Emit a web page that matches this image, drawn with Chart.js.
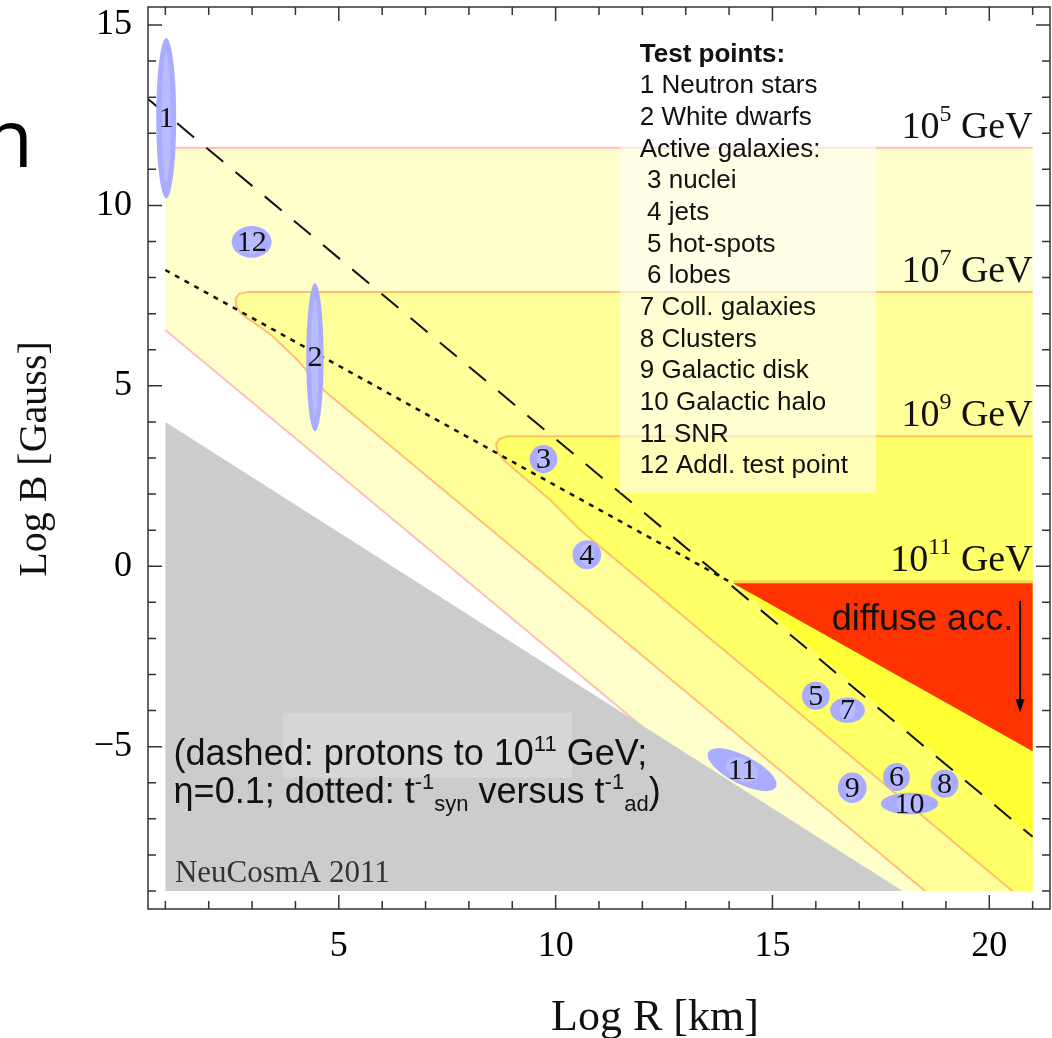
<!DOCTYPE html>
<html>
<head>
<meta charset="utf-8">
<title>Hillas plot</title>
<script src="https://cdn.jsdelivr.net/npm/chart.js@4.4.1/dist/chart.umd.min.js"></script>
<style>
  html, body { margin: 0; padding: 0; background: #ffffff; }
  canvas { display: block; }
</style>
</head>
<body>
<canvas id="hillasChart" width="1052" height="1038"></canvas>
<script>
// Log R [km] on x, Log B [Gauss] on y
const xTicks = [5, 10, 15, 20];
const yTicks = [-5, 0, 5, 10, 15];

// contours of the maximal energy
const band5R = [21, 1, null, 1, 16.55];
const band5B = [11.6, 11.6, null, 6.55, -9];
const band7R = [21, 2.9, 2.7, 2.62, 2.64, 2.75, 2.95, 3.2, 3.48, 4.02, 4.68, 18.52];
const band7B = [7.6, 7.6, 7.55, 7.42, 7.2, 7.0, 6.83, 6.62, 6.37, 5.75, 4.85, -9];
const band9R = [21, 8.9, 8.7, 8.63, 8.66, 8.78, 8.98, 9.33, 9.87, 10.56, 20.53];
const band9B = [3.6, 3.6, 3.53, 3.38, 3.18, 2.97, 2.76, 2.4, 1.84, 1.01, -9];
const band11R = [21, 14.09];
const band11B = [-0.42, -0.42];
const energyExp = [5, 7, 9, 11];

// excluded (grey) and diffuse acceleration (red) regions
const greyR = [1, 18, 1];
const greyB = [4, -9, -9];
const diffuseR = [14.09, 21, 21];
const diffuseB = [-0.47, -0.47, -5.13];

// dashed: protons to 10^11 GeV, dotted: t_syn^-1 = t_ad^-1
const dashedR = [0.6, 21];
const dashedB = [12.95, -7.5];
const dottedR = [1, 14.09];
const dottedB = [8.21, -0.48];

// test points: centre and half extent in Log R / Log B
const pointLabels = ['1', '2', '3', '4', '5', '6', '7', '8', '9', '10', '11', '12'];
const pointR  = [1.02, 4.45, 9.72, 10.72, 16.0, 17.86, 16.73, 18.97, 16.84, 18.16, 14.3, 2.99];
const pointB  = [12.42, 5.79, 2.97, 0.32, -3.59, -5.84, -3.99, -6.03, -6.14, -6.58, -5.64, 8.99];
const pointDR = [0.23, 0.2, 0.32, 0.33, 0.32, 0.31, 0.4, 0.32, 0.33, 0.66, 0.88, 0.46];
const pointDB = [2.22, 2.05, 0.39, 0.4, 0.39, 0.39, 0.35, 0.39, 0.42, 0.3, 0.39, 0.44];
const pointTilt = [0, 0, 0, 0, 0, 0, 0, 0, 0, 0, 27, 0];

const legendLines = ['1 Neutron stars', '2 White dwarfs', 'Active galaxies:', ' 3 nuclei', ' 4 jets',
  ' 5 hot-spots', ' 6 lobes', '7 Coll. galaxies', '8 Clusters', '9 Galactic disk',
  '10 Galactic halo', '11 SNR', '12 Addl. test point'];

const serif = '"Liberation Serif", "Times New Roman", serif';
const sans = '"Liberation Sans", Arial, sans-serif';

const pts = (R, B) => R.map((r, i) => ({x: r, y: B[i]}));
const poly = (R, B, cR, cB) => pts(R, B).filter(p => p.x !== null).concat(pts(cR, cB));

function drawRuns(ctx, runs, x, y, align) {
    let width = 0;
    for (const r of runs) { ctx.font = r.font; width += ctx.measureText(r.text).width; }
    let cx = align === 'right' ? x - width : (align === 'center' ? x - width / 2 : x);
    ctx.textAlign = 'left';
    for (const r of runs) {
        ctx.font = r.font;
        ctx.fillText(r.text, cx, y + (r.dy || 0));
        cx += ctx.measureText(r.text).width;
    }
}

const overlay = {
    id: 'overlay',
    afterDatasetsDraw(chart) {
        const {ctx, scales: {x, y}} = chart;
        const px = v => x.getPixelForValue(v);
        const py = v => y.getPixelForValue(v);
        ctx.save();

        // lighter patch behind the caption, legend box
        ctx.fillStyle = 'rgba(255,255,255,0.2)';
        ctx.fillRect(px(3.71), py(-4.06), px(10.38) - px(3.71), py(-5.86) - py(-4.06));
        ctx.fillStyle = 'rgba(255,255,255,0.55)';
        ctx.fillRect(px(11.48), py(14.86), px(17.39) - px(11.48), py(2.04) - py(14.86));

        // test points
        pointLabels.forEach((label, i) => {
            const cx = px(pointR[i]), cy = py(pointB[i]);
            const rx = px(pointR[i] + pointDR[i]) - cx;
            const ry = cy - py(pointB[i] + pointDB[i]);
            const rot = pointTilt[i] * Math.PI / 180;
            ctx.beginPath();
            ctx.ellipse(cx, cy, rx, ry, rot, 0, Math.PI * 2);
            ctx.fillStyle = '#aaacff';
            ctx.fill();
            ctx.beginPath();
            ctx.ellipse(cx, cy, rx * 0.45, ry * 0.8, rot, 0, Math.PI * 2);
            ctx.fillStyle = 'rgba(255,255,255,0.18)';
            ctx.fill();
            ctx.fillStyle = '#111';
            ctx.font = '30px ' + serif;
            ctx.textAlign = 'center';
            ctx.textBaseline = 'middle';
            ctx.fillText(label, cx, cy + 1);
        });

        ctx.textBaseline = 'alphabetic';
        ctx.fillStyle = '#111';

        // energy labels above each contour
        const tops = [band5B[0], band7B[0], band9B[0], band11B[0]];
        energyExp.forEach((e, i) => {
            drawRuns(ctx, [
                {text: '10', font: '38px ' + serif},
                {text: String(e), font: '24px ' + serif, dy: -17},
                {text: ' GeV', font: '38px ' + serif}
            ], px(21), py(tops[i]) - 10, 'right');
        });

        // legend
        ctx.textAlign = 'left';
        ctx.font = 'bold 26px ' + sans;
        ctx.fillText('Test points:', px(11.94), py(13.98));
        ctx.font = '26px ' + sans;
        legendLines.forEach((t, i) => ctx.fillText(t, px(11.94), py(13.98) + 31.65 * (i + 1)));

        // diffuse acceleration
        ctx.font = '36px ' + sans;
        ctx.textAlign = 'right';
        ctx.fillText('diffuse acc.', px(20.55), py(-1.76));
        const ax = px(20.71), ay0 = py(-0.96), ay1 = py(-4.05);
        ctx.strokeStyle = '#000';
        ctx.lineWidth = 2;
        ctx.beginPath(); ctx.moveTo(ax, ay0); ctx.lineTo(ax, ay1 - 10); ctx.stroke();
        ctx.fillStyle = '#000';
        ctx.beginPath(); ctx.moveTo(ax, ay1); ctx.lineTo(ax - 4.5, ay1 - 13); ctx.lineTo(ax + 4.5, ay1 - 13); ctx.closePath(); ctx.fill();

        // caption
        ctx.fillStyle = '#111';
        const big = '36px ' + sans, small = '22px ' + sans;
        drawRuns(ctx, [
            {text: '(dashed: protons to 10', font: big},
            {text: '11', font: small, dy: -14},
            {text: ' GeV;', font: big}
        ], px(1.19), py(-5.5), 'left');
        drawRuns(ctx, [
            {text: '\u03b7=0.1; dotted: t', font: big},
            {text: '-1', font: small, dy: -14},
            {text: 'syn', font: small, dy: 8},
            {text: ' versus t', font: big},
            {text: '-1', font: small, dy: -14},
            {text: 'ad', font: small, dy: 8},
            {text: ')', font: big}
        ], px(1.19), py(-6.55), 'left');

        ctx.fillStyle = '#333';
        ctx.font = '31px ' + serif;
        ctx.fillText('NeuCosmA 2011', px(1.22), py(-8.74));
        ctx.restore();
    },
    afterDraw(chart) {
        const {ctx, chartArea: a, scales: {x, y}} = chart;
        ctx.save();
        ctx.strokeStyle = '#333';
        ctx.lineWidth = 1.5;
        ctx.strokeRect(a.left, a.top, a.right - a.left, a.bottom - a.top);
        ctx.beginPath();
        for (let v = 1; v <= 21; v++) {
            const p = x.getPixelForValue(v), L = v % 5 === 0 ? 14 : 8;
            ctx.moveTo(p, a.bottom); ctx.lineTo(p, a.bottom - L);
            ctx.moveTo(p, a.top); ctx.lineTo(p, a.top + L);
        }
        for (let v = -9; v <= 15; v++) {
            const p = y.getPixelForValue(v), L = v % 5 === 0 ? 14 : 8;
            ctx.moveTo(a.left, p); ctx.lineTo(a.left + L, p);
            ctx.moveTo(a.right, p); ctx.lineTo(a.right - L, p);
        }
        ctx.stroke();

        // axis titles
        ctx.fillStyle = '#111';
        ctx.textAlign = 'center';
        ctx.textBaseline = 'alphabetic';
        ctx.font = '44px ' + serif;
        ctx.fillText('Log R [km]', 655, 1030);
        ctx.save();
        ctx.translate(46, 459);
        ctx.rotate(-Math.PI / 2);
        ctx.font = '40px ' + serif;
        ctx.fillText('Log B [Gauss]', 0, 0);
        ctx.restore();

        // fragment of slide title at the left edge
        ctx.fillStyle = '#000';
        ctx.font = '80px "Open Sans", sans-serif';
        ctx.textAlign = 'left';
        ctx.fillText('n', -16, 167);
        ctx.restore();
    }
};

const fillSet = (data, color, order) => ({
    data, fill: 'shape', backgroundColor: color, borderColor: 'rgba(0,0,0,0)',
    borderWidth: 0, pointRadius: 0, order
});
const lineSet = (data, color, width, dash, order) => ({
    data, fill: false, borderColor: color, borderWidth: width, borderDash: dash,
    pointRadius: 0, order
});

const contourPink = 'rgba(255,170,170,0.75)';
const contourOrange = 'rgba(255,165,90,0.7)';

new Chart(document.getElementById('hillasChart'), {
    type: 'line',
    data: {
        datasets: [
            fillSet(poly(band5R, band5B, [21], [-9]), '#ffffcc', 20),
            lineSet(pts(band5R, band5B), contourPink, 2, [], 19),
            fillSet(poly(band7R, band7B, [21], [-9]), '#ffff99', 18),
            lineSet(pts(band7R, band7B), contourOrange, 2, [], 17),
            fillSet(poly(band9R, band9B, [21], [-9]), '#ffff66', 16),
            lineSet(pts(band9R, band9B), contourOrange, 2, [], 15),
            fillSet(poly(band11R, band11B, [21], [dashedB[1]]), '#ffff33', 14),
            lineSet(pts(band11R, band11B), contourOrange, 2, [], 13),
            fillSet(pts(greyR, greyB), '#cccccc', 12),
            fillSet(pts(diffuseR, diffuseB), '#ff3300', 11),
            lineSet(pts(dashedR, dashedB), '#111', 2, [22, 16], 10),
            lineSet(pts(dottedR, dottedB), '#111', 2.5, [5, 6], 9)
        ]
    },
    options: {
        responsive: false,
        animation: false,
        events: [],
        devicePixelRatio: 1,
        layout: {padding: {top: 7, right: 2, left: 0, bottom: 0}},
        plugins: {
            legend: {display: false},
            tooltip: {enabled: false},
            filler: {drawTime: 'beforeDatasetDraw'}
        },
        scales: {
            x: {
                type: 'linear',
                min: 0.6,
                max: 21.4,
                afterBuildTicks: s => { s.ticks = xTicks.map(v => ({value: v})); },
                afterFit: s => { s.height = 129; s.paddingLeft = 0; s.paddingRight = 0; },
                grid: {display: false, drawTicks: false},
                border: {display: false},
                ticks: {
                    color: '#000', padding: 16, maxRotation: 0, autoSkip: false,
                    font: {family: 'Liberation Serif', size: 36}
                }
            },
            y: {
                type: 'linear',
                min: -9.5,
                max: 15.5,
                afterBuildTicks: s => { s.ticks = yTicks.map(v => ({value: v})); },
                afterFit: s => { s.width = 148; s.paddingTop = 0; s.paddingBottom = 0; },
                grid: {display: false, drawTicks: false},
                border: {display: false},
                ticks: {
                    color: '#000', padding: 16, autoSkip: false,
                    font: {family: 'Liberation Serif', size: 36},
                    callback: v => v < 0 ? '\u2212' + Math.abs(v) : String(v)
                }
            }
        }
    },
    plugins: [overlay]
});
</script>
</body>
</html>
